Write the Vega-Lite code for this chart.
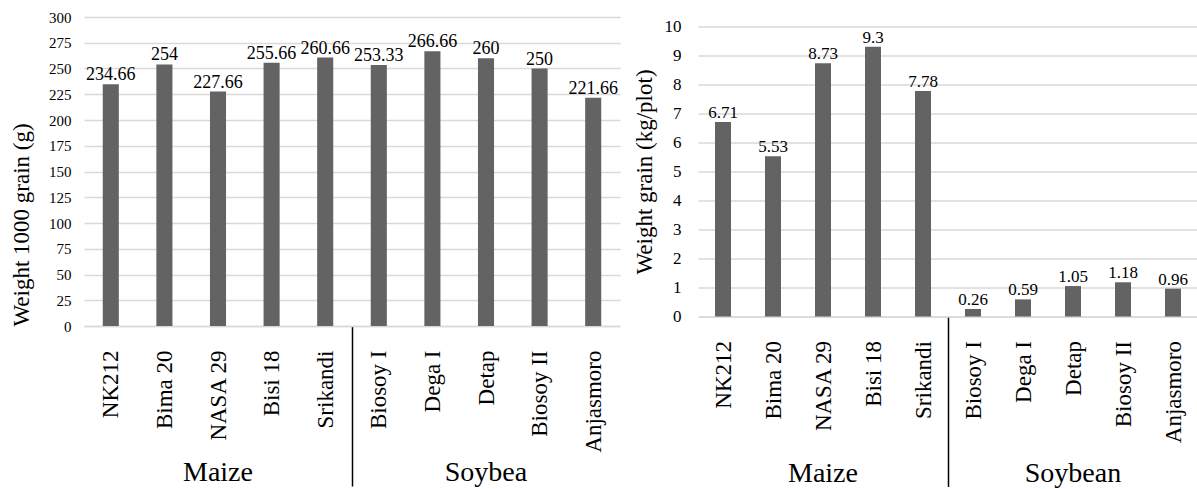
{
  "$schema": "https://vega.github.io/schema/vega-lite/v6.json",
  "padding": {"left": 10, "top": 10, "right": 0, "bottom": 0},
  "background": "white",
  "bounds": "flush",
  "center": true,
  "spacing": 78,
  "config": {
    "font": "'Liberation Serif', 'Times New Roman', serif",
    "view": {"stroke": null},
    "text": {"font": "'Liberation Serif', 'Times New Roman', serif"},
    "axis": {"labelColor": "black", "titleColor": "black", "titleFontWeight": "normal", "labelFont": "'Liberation Serif', 'Times New Roman', serif", "titleFont": "'Liberation Serif', 'Times New Roman', serif"}
  },
  "hconcat": [
    {
      "width": 536,
      "height": 309,
      "data": {"values": [
        {"variety": "NK212", "group": "Maize", "weight": 234.66},
        {"variety": "Bima 20", "group": "Maize", "weight": 254},
        {"variety": "NASA 29", "group": "Maize", "weight": 227.66},
        {"variety": "Bisi 18", "group": "Maize", "weight": 255.66},
        {"variety": "Srikandi", "group": "Maize", "weight": 260.66},
        {"variety": "Biosoy I", "group": "Soybea", "weight": 253.33},
        {"variety": "Dega I", "group": "Soybea", "weight": 266.66},
        {"variety": "Detap", "group": "Soybea", "weight": 260},
        {"variety": "Biosoy II", "group": "Soybea", "weight": 250},
        {"variety": "Anjasmoro", "group": "Soybea", "weight": 221.66}
      ]},
      "layer": [
        {
          "encoding": {
            "x": {"field": "variety", "type": "nominal", "sort": null,
              "scale": {"paddingInner": 0, "paddingOuter": 0},
              "axis": {"orient": "bottom", "title": null, "labelAngle": -90, "labelFontSize": 23, "labelPadding": -136,
                "tickBand": "extent", "tickSize": 160, "tickWidth": 1.5,
                "tickColor": {"condition": {"test": "datum.value === 'Srikandi'", "value": "#000000"}, "value": "transparent"},
                "domainColor": "#d9d9d9", "domainWidth": 1.5}},
            "y": {"field": "weight", "type": "quantitative",
              "scale": {"domain": [0, 300]},
              "axis": {"values": [0, 25, 50, 75, 100, 125, 150, 175, 200, 225, 250, 275, 300],
                "domain": false, "ticks": false, "gridColor": "#d9d9d9", "gridWidth": 1.5,
                "labelFontSize": 15, "labelPadding": 13,
                "title": "Weight  1000  grain  (g)", "titleFontSize": 23, "titlePadding": 15, "titleAnchor": "start"}}
          },
          "layer": [
            {"mark": {"type": "bar", "color": "#636363", "width": {"band": 0.3}}},
            {"mark": {"type": "text", "baseline": "alphabetic", "dy": -4, "fontSize": 18, "color": "black"},
              "encoding": {"text": {"field": "weight", "type": "quantitative", "format": "~g"}}}
          ]
        },
        {
          "mark": {"type": "rule", "opacity": 0},
          "encoding": {
            "x": {"field": "group", "type": "nominal", "sort": null,
              "axis": {"orient": "bottom", "title": null, "labelAngle": 0, "domain": false, "ticks": false, "grid": false,
                "labelFontSize": 28, "labelPadding": 132}}
          }
        }
      ],
      "resolve": {"scale": {"x": "independent"}}
    },
    {
      "width": 500,
      "height": 290,
      "data": {"values": [
        {"variety": "NK212", "group": "Maize", "weight": 6.71},
        {"variety": "Bima 20", "group": "Maize", "weight": 5.53},
        {"variety": "NASA 29", "group": "Maize", "weight": 8.73},
        {"variety": "Bisi 18", "group": "Maize", "weight": 9.3},
        {"variety": "Srikandi", "group": "Maize", "weight": 7.78},
        {"variety": "Biosoy I", "group": "Soybean", "weight": 0.26},
        {"variety": "Dega I", "group": "Soybean", "weight": 0.59},
        {"variety": "Detap", "group": "Soybean", "weight": 1.05},
        {"variety": "Biosoy II", "group": "Soybean", "weight": 1.18},
        {"variety": "Anjasmoro", "group": "Soybean", "weight": 0.96}
      ]},
      "layer": [
        {
          "encoding": {
            "x": {"field": "variety", "type": "nominal", "sort": null,
              "scale": {"paddingInner": 0, "paddingOuter": 0},
              "axis": {"orient": "bottom", "title": null, "labelAngle": -90, "labelFontSize": 23, "labelPadding": -146,
                "tickBand": "extent", "tickSize": 170, "tickWidth": 1.5,
                "tickColor": {"condition": {"test": "datum.value === 'Srikandi'", "value": "#000000"}, "value": "transparent"},
                "domainColor": "#d9d9d9", "domainWidth": 1.5}},
            "y": {"field": "weight", "type": "quantitative",
              "scale": {"domain": [0, 10]},
              "axis": {"values": [0, 1, 2, 3, 4, 5, 6, 7, 8, 9, 10],
                "domain": false, "ticks": false, "gridColor": "#d9d9d9", "gridWidth": 1.5,
                "labelFontSize": 17, "labelPadding": 17,
                "title": "Weight  grain  (kg/plot)", "titleFontSize": 23, "titlePadding": 8}}
          },
          "layer": [
            {"mark": {"type": "bar", "color": "#636363", "width": {"band": 0.32}}},
            {"mark": {"type": "text", "baseline": "alphabetic", "dy": -4, "fontSize": 17, "color": "black"},
              "encoding": {"text": {"field": "weight", "type": "quantitative", "format": "~g"}}}
          ]
        },
        {
          "mark": {"type": "rule", "opacity": 0},
          "encoding": {
            "x": {"field": "group", "type": "nominal", "sort": null,
              "axis": {"orient": "bottom", "title": null, "labelAngle": 0, "domain": false, "ticks": false, "grid": false,
                "labelFontSize": 28, "labelPadding": 143}}
          }
        }
      ],
      "resolve": {"scale": {"x": "independent"}}
    }
  ]
}
